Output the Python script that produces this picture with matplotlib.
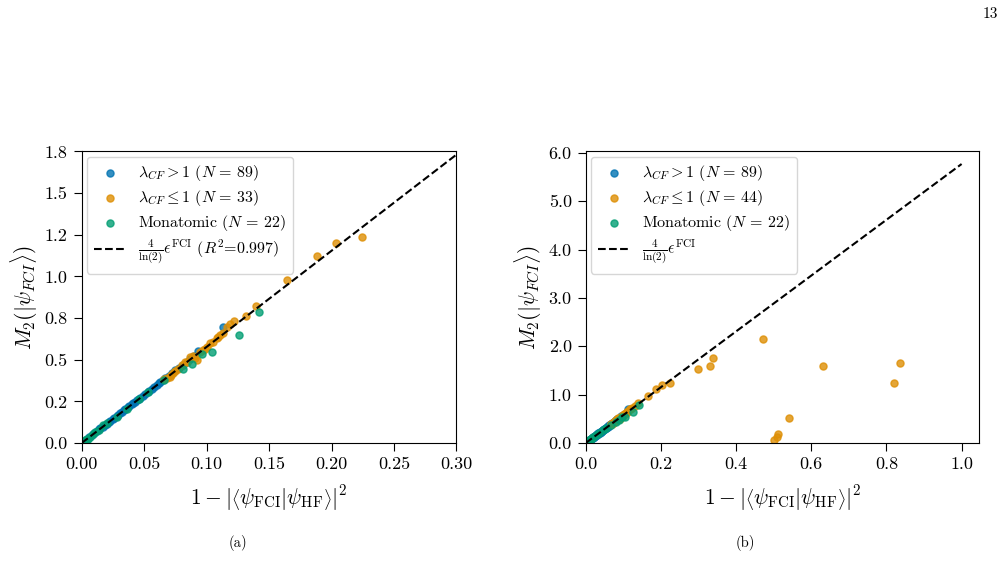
import numpy as np
import matplotlib
matplotlib.use('Agg')
import matplotlib.pyplot as plt
from matplotlib.ticker import FormatStrFormatter, MultipleLocator

# Fuente tipo LaTeX
plt.rcParams['font.family'] = 'serif'
plt.rcParams['font.serif'] = ['cmr10']
plt.rcParams['mathtext.fontset'] = 'cm'
plt.rcParams['axes.unicode_minus'] = False
plt.rcParams['axes.formatter.use_mathtext'] = True

# Datos: lambda_CF > 1 (mismos en ambos paneles)
blue_x = [0.004, 0.006, 0.008, 0.010, 0.012, 0.014, 0.015, 0.017, 0.019, 0.020,
          0.022, 0.023, 0.025, 0.026, 0.028, 0.029, 0.031, 0.032, 0.034, 0.035,
          0.037, 0.038, 0.040, 0.041, 0.043, 0.044, 0.046, 0.047, 0.049, 0.051,
          0.053, 0.054, 0.056, 0.058, 0.060, 0.062, 0.063, 0.065, 0.067, 0.070,
          0.072, 0.075, 0.078, 0.081, 0.084, 0.087, 0.090, 0.093, 0.113]
blue_y = [0.024, 0.035, 0.047, 0.058, 0.070, 0.082, 0.088, 0.099, 0.110, 0.117,
          0.128, 0.134, 0.145, 0.151, 0.162, 0.169, 0.180, 0.186, 0.197, 0.203,
          0.214, 0.222, 0.232, 0.238, 0.249, 0.256, 0.266, 0.273, 0.284, 0.296,
          0.307, 0.315, 0.325, 0.336, 0.348, 0.360, 0.368, 0.377, 0.390, 0.405,
          0.418, 0.436, 0.452, 0.470, 0.487, 0.505, 0.523, 0.552, 0.697]

# Datos: lambda_CF <= 1 (panel a)
orange_x = [0.0685, 0.0707, 0.0715, 0.0729, 0.0750, 0.0770, 0.0800, 0.0827, 0.0840,
            0.0867, 0.0890, 0.0907, 0.0920, 0.0950, 0.0974, 0.0985, 0.1001, 0.1030,
            0.1054, 0.1080, 0.1094, 0.1110, 0.1134, 0.1166, 0.1190, 0.1220, 0.1316,
            0.1396, 0.1646, 0.1880, 0.2036, 0.2247, 0.0660]
orange_y = [0.389, 0.395, 0.410, 0.422, 0.430, 0.445, 0.468, 0.488, 0.486,
            0.515, 0.520, 0.509, 0.498, 0.548, 0.559, 0.566, 0.578, 0.598,
            0.608, 0.628, 0.635, 0.650, 0.659, 0.698, 0.712, 0.731, 0.763,
            0.823, 0.979, 1.123, 1.199, 1.235, 0.384]

# Puntos extra de lambda_CF <= 1 que solo salen en el panel b
orange_extra_x = [0.300, 0.331, 0.338, 0.471, 0.501, 0.508, 0.512, 0.541, 0.632, 0.821, 0.836]
orange_extra_y = [1.531, 1.593, 1.752, 2.146, 0.062, 0.130, 0.180, 0.524, 1.593, 1.248, 1.662]

# Datos: monoatomicos
green_x = [0.001, 0.002, 0.003, 0.004, 0.005, 0.007, 0.009, 0.011, 0.014, 0.017, 0.020,
           0.028, 0.036, 0.046, 0.053, 0.066, 0.081, 0.088, 0.096, 0.104, 0.126, 0.142]
green_y = [0.006, 0.010, 0.016, 0.022, 0.026, 0.038, 0.055, 0.064, 0.080, 0.106, 0.118,
           0.158, 0.206, 0.262, 0.306, 0.380, 0.443, 0.474, 0.535, 0.548, 0.649, 0.785]

# Recta 4/ln(2) * eps
slope = 4 / np.log(2)
fit_x_a = np.array([0.0, 0.30])
fit_x_b = np.array([0.0, 1.0])

c_blue = '#0173b2'
c_orange = '#de8f05'
c_green = '#029e73'

fig = plt.figure(figsize=(10.05, 5.74), dpi=100)
ax1 = fig.add_axes([0.0813, 0.2282, 0.3729, 0.5079])
ax2 = fig.add_axes([0.5828, 0.2282, 0.3916, 0.5079])

ox_b = orange_x + orange_extra_x
oy_b = orange_y + orange_extra_y

paneles = [
    (ax1, orange_x, orange_y, fit_x_a, 33, r' ($R^2$=0.997)'),
    (ax2, ox_b, oy_b, fit_x_b, 44, ''),
]

for ax, ox, oy, fx, n_orange, extra in paneles:
    ax.scatter(blue_x, blue_y, s=26, color=c_blue, alpha=0.8,
               label=r'$\lambda_{CF} > 1$ ($N\,=\,89$)')
    ax.scatter(ox, oy, s=26, color=c_orange, alpha=0.8,
               label=r'$\lambda_{CF} \leq 1$ ($N\,=\,%d$)' % n_orange)
    ax.scatter(green_x, green_y, s=26, color=c_green, alpha=0.8,
               label=r'Monatomic ($N\,=\,22$)')
    ax.plot(fx, slope * fx, 'k--', lw=1.5,
            label=r'$\frac{4}{\ln(2)}\epsilon^{\rm FCI}$' + extra)
    ax.set_xlabel(r'$1-\left|\left\langle\psi_{\rm FCI}|\psi_{\rm HF}\right\rangle\right|^2$',
                  fontsize=15.5, labelpad=8)
    ax.set_ylabel(r'$M_2(|\psi_{FCI}\rangle)$', fontsize=15.5, labelpad=3)
    ax.tick_params(labelsize=13, length=5.5, pad=4.5)
    ax.legend(loc='upper left', fontsize=11.5, scatterpoints=1,
              labelspacing=0.3, borderaxespad=0.35)

# Ejes del panel a
ax1.set_xlim(0, 0.30)
ax1.set_ylim(0, 1.75)
ax1.xaxis.set_major_locator(MultipleLocator(0.05))
ax1.yaxis.set_major_locator(MultipleLocator(0.25))
ax1.xaxis.set_major_formatter(FormatStrFormatter('%.2f'))
ax1.yaxis.set_major_formatter(FormatStrFormatter('%.1f'))

# Ejes del panel b
ax2.set_xlim(0, 1.047)
ax2.set_ylim(0, 6.03)
ax2.xaxis.set_major_locator(MultipleLocator(0.2))
ax2.yaxis.set_major_locator(MultipleLocator(1.0))
ax2.xaxis.set_major_formatter(FormatStrFormatter('%.1f'))
ax2.yaxis.set_major_formatter(FormatStrFormatter('%.1f'))

fig.text(0.237, 0.054, '(a)', ha='center', va='center', fontsize=10.5)
fig.text(0.742, 0.054, '(b)', ha='center', va='center', fontsize=10.5)
fig.text(0.985, 0.975, '13', ha='center', va='center', fontsize=11)

plt.savefig('out.png', dpi=100)
